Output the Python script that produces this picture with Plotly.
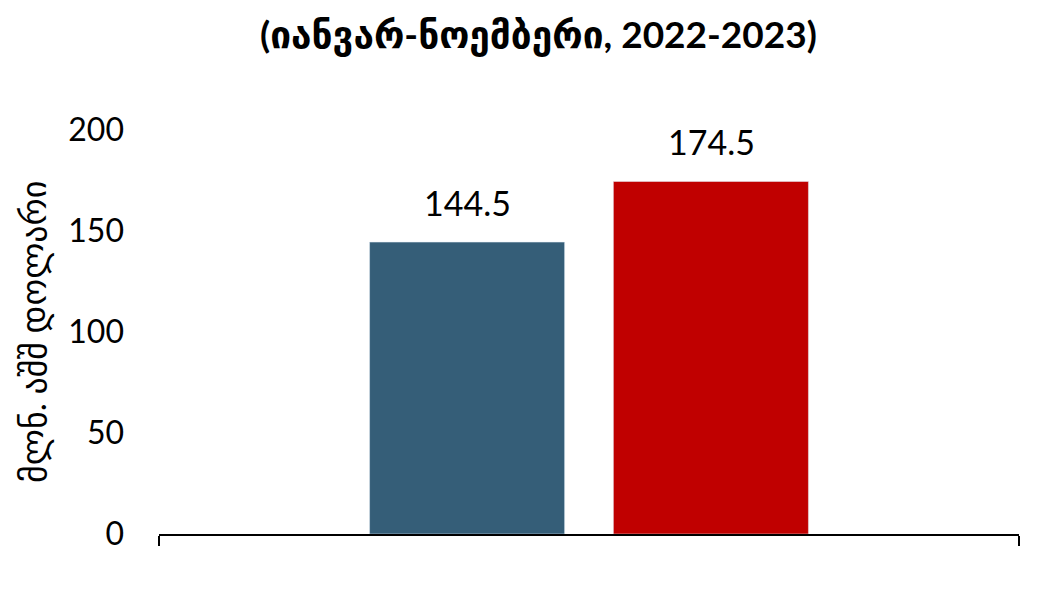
import plotly.graph_objects as go

categories = [""]
years = ["2022", "2023"]
values_2022 = [144.5]
values_2023 = [174.5]
colors = ["#355E78", "#C00000"]
y_ticks = [0, 50, 100, 150, 200]

FONT = "Lato, 'DejaVu Sans', sans-serif"

fig = go.Figure()
for name, vals, col in zip(years, [values_2022, values_2023], colors):
    fig.add_trace(go.Bar(x=categories, y=vals, name=name, marker_color=col))

# value labels above bars
for i, (vals, sx) in enumerate(zip([values_2022, values_2023], [-122, 122])):
    for c, v in zip(categories, vals):
        fig.add_annotation(
            x=c, y=v, text=f"{v:.1f}", showarrow=False, xshift=sx, yshift=40,
            xanchor="center", yanchor="middle",
            font=dict(size=34, family=FONT, color="#000000"),
        )

fig.update_layout(
    width=1062, height=600,
    paper_bgcolor="white", plot_bgcolor="white",
    margin=dict(l=151, r=51, t=122, b=74),
    barmode="group", bargap=0.433, bargroupgap=0.2,
    showlegend=False,
    font=dict(family=FONT, color="#000000"),
)
fig.update_xaxes(
    type="category", range=[-0.5, 0.5], showline=True, linecolor="#000000", linewidth=2,
    ticks="outside", tickson="boundaries", ticklen=10, tickwidth=2, tickcolor="#000000",
    showticklabels=False, showgrid=False,
)
fig.update_yaxes(
    range=[0, 200], tickvals=y_ticks, showgrid=False, zeroline=False, showline=False,
    tickfont=dict(size=32, family=FONT), ticks="", ticklabelstandoff=34,
    automargin=False,
)
fig.add_annotation(
    text="მლნ. აშშ დოლარი", xref="paper", yref="paper", x=0, y=0.5,
    xanchor="center", yanchor="middle", xshift=-126, textangle=-90,
    showarrow=False, font=dict(size=34, family=FONT, color="#000000"),
)
fig.add_annotation(
    text="<b>(იანვარ-ნოემბერი, 2022-2023)</b>", xref="paper", yref="paper",
    x=0.5, y=1, xanchor="center", yanchor="middle", yshift=96, xshift=-51,
    showarrow=False, font=dict(size=37, family=FONT, color="#000000"),
)
fig.write_html("out.html")
